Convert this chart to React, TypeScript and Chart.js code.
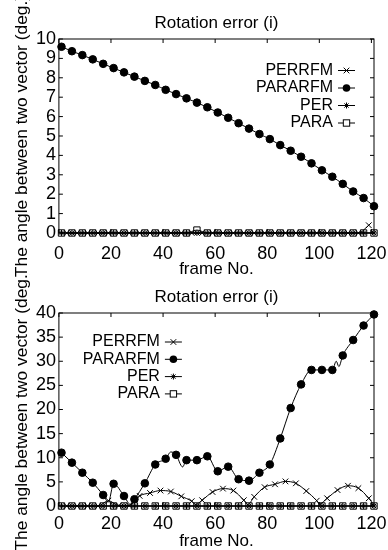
import React, { useEffect, useRef } from 'react';
import { Chart, registerables } from 'chart.js';

Chart.register(...registerables);

const FONT = '"Liberation Sans", Arial, Helvetica, sans-serif';

// ---------- text ----------
const chartTitle = 'Rotation error (i)';
const xAxisTitle = 'frame No.';
const yAxisTitle = 'The angle between two vector (deg.)';
const seriesNames = ['PERRFM', 'PARARFM', 'PER', 'PARA'];

// ---------- ticks ----------
const xTickValues = [0, 20, 40, 60, 80, 100, 120];
const topYTickValues = [0, 1, 2, 3, 4, 5, 6, 7, 8, 9, 10];
const bottomYTickValues = [0, 5, 10, 15, 20, 25, 30, 35, 40];

// ---------- frames where markers sit ----------
const framesA = [1, 5, 9, 13, 17, 21, 25, 29, 33, 37, 41, 45, 49, 53, 57, 61, 65, 69, 73, 77, 81, 85, 89, 93, 97, 101, 105, 109, 113, 117, 121];
const framesB = [3, 7, 11, 15, 19, 23, 27, 31, 35, 39, 43, 47, 51, 55, 59, 63, 67, 71, 75, 79, 83, 87, 91, 95, 99, 103, 107, 111, 115, 119];

// ---------- top chart values ----------
const topPERRFM = [0, 0, 0, 0, 0, 0, 0, 0, 0, 0, 0, 0, 0, 0, 0, 0, 0, 0, 0, 0, 0, 0, 0, 0, 0, 0, 0, 0, 0, 0.4];
const topPARARFM = [9.6, 9.37, 9.17, 8.95, 8.72, 8.5, 8.28, 8.06, 7.84, 7.63, 7.38, 7.16, 6.94, 6.72, 6.48, 6.21, 5.94, 5.66, 5.38, 5.1, 4.84, 4.53, 4.24, 3.93, 3.59, 3.23, 2.9, 2.53, 2.14, 1.8, 1.38];
const topPER = [0, 0, 0, 0, 0, 0, 0, 0, 0, 0, 0, 0, 0, 0, 0, 0, 0, 0, 0, 0, 0, 0, 0, 0, 0, 0, 0, 0, 0, 0, 0];
const topPARA = [0, 0, 0, 0, 0, 0, 0, 0, 0, 0, 0, 0, 0, 0.15, 0, 0, 0, 0, 0, 0, 0, 0, 0, 0, 0, 0, 0, 0, 0, 0, 0];

// ---------- bottom chart values ----------
const botPERRFM = [0, 0, 0, 0, 1.1, 0.1, 0.1, 2.1, 2.7, 3.2, 3.0, 2.0, 1.0, 1.2, 2.9, 3.6, 3.2, 1.2, 1.9, 3.9, 4.5, 5.1, 4.7, 3.1, 1.1, 1.6, 3.3, 4.2, 3.7, 1.6];
const botPERRFMExtraFrames = [52.5, 72.5, 100, 121];
const botPERRFMExtraValues = [0.3, 0.3, 0.4, 0.2];
const botPARARFM = [11.05, 8.98, 6.9, 4.83, 2.28, 4.6, 2.07, 1.4, 4.7, 8.6, 9.8, 10.6, 9.5, 9.5, 10.3, 7.2, 8.15, 5.55, 5.25, 6.9, 8.6, 14.0, 20.3, 25.2, 28.2, 28.2, 28.2, 31.2, 34.4, 37.4, 39.7];
const botPARARFMExtraFrames = [19, 27.5, 43, 47.5, 106.5, 107.5];
const botPARARFMExtraValues = [0.8, 0.3, 11.2, 8.1, 30.0, 28.9];
const botPER = [0, 0, 0, 0, 0, 0, 0, 0, 0, 0, 0, 0, 0, 0, 0, 0, 0, 0, 0, 0, 0, 0, 0, 0, 0, 0, 0, 0, 0, 0, 0];
const botPARA = [0, 0, 0, 0, 0, 0, 0, 0, 0, 0, 0, 0, 0, 0, 0, 0, 0, 0, 0, 0, 0, 0, 0, 0, 0, 0, 0, 0, 0, 0, 0];

type Pt = { x: number; y: number };
type MarkerStyle = 'crossRot' | 'circle' | 'star' | 'rect';

interface Series {
  label: string;
  frames: number[];
  values: number[];
  extraFrames?: number[];
  extraValues?: number[];
  style: MarkerStyle;
  radius: number;
  fill: string;
}

interface Params {
  series: Series[];
  yMax: number;
  yTicks: number[];
  titleTop: number;
  titleBottom: number;
  xTickLineHeight: number;
  xTitleTop: number;
  padBottom: number;
  legendRight: (ca: any) => number;
  legendTop: number;
  legendStep: number;
}

const zip = (xs: number[], ys: number[]): Pt[] => xs.map((x, i) => ({ x, y: ys[i] }));

const markerStyles: { style: MarkerStyle; radius: number; fill: string }[] = [
  { style: 'crossRot', radius: 4, fill: '#000' },
  { style: 'circle', radius: 3.8, fill: '#000' },
  { style: 'star', radius: 3, fill: '#000' },
  { style: 'rect', radius: 4.5, fill: 'rgba(0,0,0,0)' },
];

function makeSeries(
  lists: { frames: number[]; values: number[]; extraFrames?: number[]; extraValues?: number[] }[]
): Series[] {
  return lists.map((l, i) => ({ label: seriesNames[i], ...l, ...markerStyles[i] }));
}

function drawMarker(ctx: CanvasRenderingContext2D, style: MarkerStyle, x: number, y: number, r: number) {
  ctx.beginPath();
  if (style === 'circle') {
    ctx.arc(x, y, r, 0, Math.PI * 2);
    ctx.fill();
    return;
  }
  if (style === 'rect') {
    const s = r * Math.SQRT1_2;
    ctx.fillStyle = '#fff';
    ctx.fillRect(x - s, y - s, 2 * s, 2 * s);
    ctx.strokeRect(x - s, y - s, 2 * s, 2 * s);
    ctx.fillStyle = '#000';
    return;
  }
  const d = r * Math.SQRT1_2;
  ctx.moveTo(x - d, y - d);
  ctx.lineTo(x + d, y + d);
  ctx.moveTo(x - d, y + d);
  ctx.lineTo(x + d, y - d);
  if (style === 'star') {
    ctx.moveTo(x - r, y);
    ctx.lineTo(x + r, y);
    ctx.moveTo(x, y - r);
    ctx.lineTo(x, y + r);
  }
  ctx.stroke();
}

function buildConfig(p: Params): any {
  const datasets: any[] = [];
  p.series.forEach((s, i) => {
    const pts = zip(s.frames, s.values);
    const linePts =
      s.extraFrames && s.extraValues
        ? [...pts, ...zip(s.extraFrames, s.extraValues)].sort((a, b) => a.x - b.x)
        : pts;
    datasets.push({
      label: s.label + ' line',
      data: linePts,
      borderColor: '#000',
      borderWidth: 1,
      pointRadius: 0,
      cubicInterpolationMode: 'monotone',
      fill: false,
      clip: false,
      order: 20 + (3 - i),
    });
    datasets.push({
      label: s.label,
      data: pts,
      showLine: false,
      pointStyle: s.style,
      pointRadius: s.radius,
      pointBorderColor: '#000',
      pointBackgroundColor: s.fill,
      pointBorderWidth: 1,
      clip: false,
      order: 3 - i,
    });
  });

  const framePlugin = {
    id: 'gnuFrame',
    afterDatasetsDraw(chart: any) {
      const { ctx, chartArea: ca, scales } = chart;
      ctx.save();
      ctx.strokeStyle = '#000';
      ctx.fillStyle = '#000';
      ctx.lineWidth = 1;
      ctx.strokeRect(ca.left, ca.top, ca.right - ca.left, ca.bottom - ca.top);
      const tl = 4;
      ctx.beginPath();
      xTickValues.forEach((v) => {
        const x = scales.x.getPixelForValue(v);
        ctx.moveTo(x, ca.bottom);
        ctx.lineTo(x, ca.bottom - tl);
        ctx.moveTo(x, ca.top);
        ctx.lineTo(x, ca.top + tl);
      });
      p.yTicks.forEach((v) => {
        const y = scales.y.getPixelForValue(v);
        ctx.moveTo(ca.left, y);
        ctx.lineTo(ca.left + tl, y);
        ctx.moveTo(ca.right, y);
        ctx.lineTo(ca.right - tl, y);
      });
      ctx.stroke();

      // legend
      const tx = p.legendRight(ca);
      ctx.font = `16px ${FONT}`;
      ctx.textAlign = 'right';
      ctx.textBaseline = 'middle';
      p.series.forEach((s, i) => {
        const y = ca.top + p.legendTop + i * p.legendStep;
        ctx.fillText(s.label, tx, y);
        ctx.beginPath();
        ctx.moveTo(tx + 5, y);
        ctx.lineTo(tx + 22, y);
        ctx.stroke();
        drawMarker(ctx, s.style, tx + 13.5, y, s.radius);
      });
      ctx.restore();
    },
  };

  return {
    type: 'line',
    data: { datasets },
    plugins: [framePlugin],
    options: {
      animation: false,
      responsive: false,
      events: [],
      layout: { padding: { left: 12, right: 14, top: 0, bottom: p.padBottom } },
      plugins: {
        legend: { display: false },
        tooltip: { enabled: false },
        title: {
          display: true,
          fullSize: false,
          text: chartTitle,
          color: '#000',
          font: { family: FONT, size: 17, weight: 'normal', lineHeight: 1.2 },
          padding: { top: p.titleTop, bottom: p.titleBottom },
        },
      },
      scales: {
        x: {
          type: 'linear',
          min: 0,
          max: 121,
          afterBuildTicks: (s: any) => {
            s.ticks = xTickValues.map((v) => ({ value: v }));
          },
          grid: { display: false, drawTicks: false },
          border: { display: false },
          ticks: {
            color: '#000',
            font: { family: FONT, size: 18, lineHeight: p.xTickLineHeight },
            padding: 0,
            maxRotation: 0,
            autoSkip: false,
          },
          title: {
            display: true,
            text: xAxisTitle,
            color: '#000',
            font: { family: FONT, size: 17, lineHeight: 0.8 },
            padding: { top: p.xTitleTop, bottom: 0 },
          },
        },
        y: {
          type: 'linear',
          min: 0,
          max: p.yMax,
          afterBuildTicks: (s: any) => {
            s.ticks = p.yTicks.map((v) => ({ value: v }));
          },
          grid: { display: false, drawTicks: false },
          border: { display: false },
          ticks: {
            color: '#000',
            font: { family: FONT, size: 18, lineHeight: 1.2 },
            padding: 3,
            autoSkip: false,
          },
          title: {
            display: true,
            text: yAxisTitle,
            color: '#000',
            font: { family: FONT, size: 17.4, lineHeight: 1.2 },
            padding: { top: 0, bottom: 0 },
          },
        },
      },
    },
  };
}

const topParams: Params = {
  series: makeSeries([
    { frames: framesB, values: topPERRFM },
    { frames: framesA, values: topPARARFM },
    { frames: framesA, values: topPER },
    { frames: framesA, values: topPARA },
  ]),
  yMax: 10,
  yTicks: topYTickValues,
  titleTop: 12.8,
  titleBottom: 5.8,
  xTickLineHeight: 2.39,
  xTitleTop: -13.8,
  padBottom: 2.2,
  legendRight: (ca: any) => ca.right - 41,
  legendTop: 31.5,
  legendStep: 17.5,
};

const bottomParams: Params = {
  series: makeSeries([
    { frames: framesB, values: botPERRFM, extraFrames: botPERRFMExtraFrames, extraValues: botPERRFMExtraValues },
    { frames: framesA, values: botPARARFM, extraFrames: botPARARFMExtraFrames, extraValues: botPARARFMExtraValues },
    { frames: framesA, values: botPER },
    { frames: framesA, values: botPARA },
  ]),
  yMax: 40,
  yTicks: bottomYTickValues,
  titleTop: 12.8,
  titleBottom: 5.8,
  xTickLineHeight: 2.0,
  xTitleTop: -7.8,
  padBottom: 2.2,
  legendRight: (ca: any) => ca.left + 101,
  legendTop: 29,
  legendStep: 17.3,
};

export default function App() {
  const topRef = useRef<HTMLCanvasElement>(null);
  const botRef = useRef<HTMLCanvasElement>(null);

  useEffect(() => {
    const c1 = new Chart(topRef.current as HTMLCanvasElement, buildConfig(topParams));
    const c2 = new Chart(botRef.current as HTMLCanvasElement, buildConfig(bottomParams));
    return () => {
      c1.destroy();
      c2.destroy();
    };
  }, []);

  return (
    <div style={{ position: 'absolute', left: 0, top: 0, width: 388, height: 550, background: '#fff' }}>
      <canvas ref={topRef} width={388} height={278} style={{ position: 'absolute', left: 0, top: 0 }} />
      <canvas ref={botRef} width={388} height={276} style={{ position: 'absolute', left: 0, top: 274 }} />
    </div>
  );
}
